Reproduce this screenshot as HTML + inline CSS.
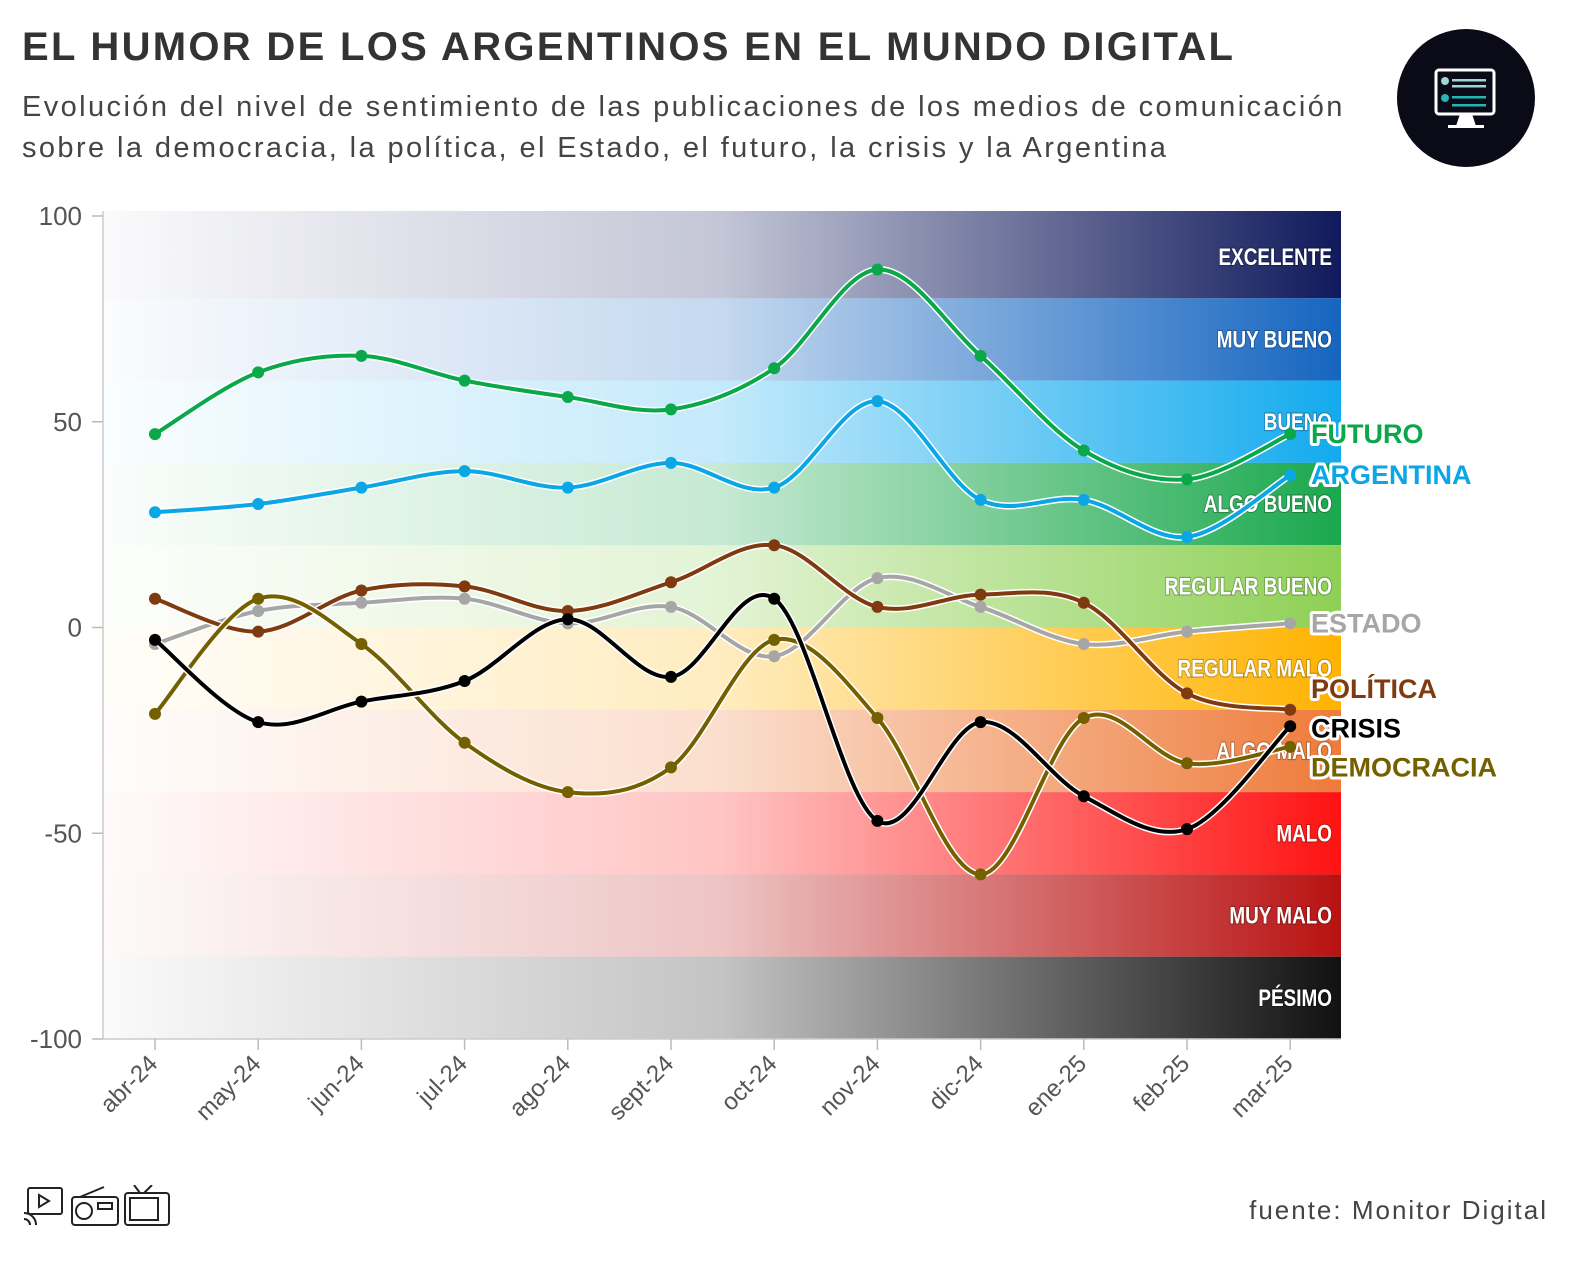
<!DOCTYPE html>
<html><head><meta charset="utf-8"><style>
body{margin:0;width:1588px;height:1278px;background:#fff;font-family:"Liberation Sans",sans-serif;overflow:hidden;position:relative}
#title{position:absolute;left:22px;top:25px;font-size:40px;font-weight:bold;color:#333;letter-spacing:2.3px}
#sub{position:absolute;left:22px;top:87px;font-size:29px;color:#444;line-height:41px;letter-spacing:2.4px}
#src{position:absolute;right:40px;top:1195px;font-size:26px;color:#444;letter-spacing:2px}
</style></head><body>
<div id="title">EL HUMOR DE LOS ARGENTINOS EN EL MUNDO DIGITAL</div>
<div id="sub">Evolución del nivel de sentimiento de las publicaciones de los medios de comunicación<br>sobre la democracia, la política, el Estado, el futuro, la crisis y la Argentina</div>
<svg style="position:absolute;left:1396px;top:28px" width="140" height="140">
<circle cx="70" cy="70" r="69" fill="#0b0b18"/>
<rect x="40" y="42" width="58" height="44" rx="3" fill="none" stroke="#fff" stroke-width="3"/>
<circle cx="49" cy="53" r="4" fill="#9fd5d5"/><circle cx="49" cy="70" r="4" fill="#25b5b5"/>
<rect x="56" y="51" width="34" height="2.5" fill="#9fd5d5"/><rect x="56" y="57" width="34" height="2.5" fill="#9fd5d5"/>
<rect x="56" y="68" width="34" height="2.5" fill="#25b5b5"/><rect x="56" y="76" width="34" height="2.5" fill="#25b5b5"/>
<path d="M64 86 L60 98 L80 98 L76 86Z" fill="#fff"/><rect x="52" y="97" width="36" height="3" fill="#fff"/>
</svg>
<svg style="position:absolute;left:22px;top:1185px" width="150" height="44" fill="none" stroke="#222" stroke-width="2">
<rect x="6" y="3" width="34" height="26" rx="2"/><path d="M17 10 L27 16 L17 22Z"/><path d="M2 28 a12 12 0 0 1 12 12 M2 34 a6 6 0 0 1 6 6"/>
<rect x="50" y="12" width="46" height="28" rx="3"/><circle cx="62" cy="26" r="8"/><path d="M58 12 L82 2"/><rect x="76" y="18" width="14" height="6"/>
<rect x="103" y="8" width="44" height="32" rx="3"/><rect x="108" y="13" width="28" height="22"/><path d="M118 8 L112 0 M122 8 L130 0"/>
</svg>
<svg id="chart" width="1588" height="1278" style="position:absolute;left:0;top:0">
<defs id="defs"></defs>
<g id="bands"></g><g id="axes"></g><g id="lines"></g><g id="labels"></g>
</svg>
<div id="src">fuente: Monitor Digital</div>
<script>
const months=["abr-24","may-24","jun-24","jul-24","ago-24","sept-24","oct-24","nov-24","dic-24","ene-25","feb-25","mar-25"];
const yTicks=[100,50,0,-50,-100];
const futuro=[47,62,66,60,56,53,63,87,66,43,36,47];
const argentina=[28,30,34,38,34,40,34,55,31,31,22,37];
const politica=[7,-1,9,10,4,11,20,5,8,6,-16,-20];
const estado=[-4,4,6,7,1,5,-7,12,5,-4,-1,1];
const democracia=[-21,7,-4,-28,-40,-34,-3,-22,-60,-22,-33,-29];
const crisis=[-3,-23,-18,-13,2,-12,7,-47,-23,-41,-49,-24];
const bandNames=["EXCELENTE","MUY BUENO","BUENO","ALGO BUENO","REGULAR BUENO","REGULAR MALO","ALGO MALO","MALO","MUY MALO","PÉSIMO"];
const bandColors=["#101a5c","#1565c0","#13aaee","#1aa84d","#8ed055","#ffb300","#ee7b3a","#ff1212","#b81212","#111111"];
const NS="http://www.w3.org/2000/svg";
const X0=155,DX=103.2,Y0=627.5,K=4.115,PL=103,PR=1341;
const x=i=>X0+i*DX, y=v=>Y0-v*K;
function mk(t,a,p){const e=document.createElementNS(NS,t);for(const k in a)e.setAttribute(k,a[k]);p.appendChild(e);return e;}
const defs=document.getElementById('defs'),bands=document.getElementById('bands'),axes=document.getElementById('axes'),lines=document.getElementById('lines'),labels=document.getElementById('labels');
bandNames.forEach((n,i)=>{
 const g=mk('linearGradient',{id:'g'+i,x1:0,x2:1,y1:0,y2:0},defs);
 mk('stop',{offset:0,'stop-color':bandColors[i],'stop-opacity':0.02},g);
 mk('stop',{offset:0.5,'stop-color':bandColors[i],'stop-opacity':0.25},g);
 mk('stop',{offset:1,'stop-color':bandColors[i],'stop-opacity':1},g);
 const top=100-i*20;
 const r=mk('rect',{x:PL,y:y(top)-(i==0?5:0),width:PR-PL,height:20*K+(i==0?5:0),fill:'url(#g'+i+')'},bands);
 
 
 const tx=PR-9,ty=y(top-10)+8;
 const t=mk('text',{x:0,y:0,transform:`translate(${tx} ${ty}) scale(0.86 1.08)`,'text-anchor':'end','font-size':22,'font-weight':'bold',fill:'#fff',style:'paint-order:stroke;stroke:rgba(0,0,0,0.25);stroke-width:2px'},bands);
 t.textContent=n;
 
 
});
mk('line',{x1:PL,x2:PL,y1:y(100)-5,y2:y(-100),stroke:'#ccc','stroke-width':1.5},axes);
mk('line',{x1:PL,x2:PR,y1:y(-100),y2:y(-100),stroke:'#ccc','stroke-width':1.5},axes);
yTicks.forEach(v=>{
 mk('line',{x1:92,x2:PL,y1:y(v),y2:y(v),stroke:'#bbb','stroke-width':1.5},axes);
 const t=mk('text',{x:82,y:y(v)+9,'text-anchor':'end','font-size':26,fill:'#555'},axes);t.textContent=v;
 
 
});
months.forEach((m,i)=>{
 mk('line',{x1:x(i),x2:x(i),y1:y(-100),y2:y(-100)+11,stroke:'#bbb','stroke-width':1.5},axes);
 const t=mk('text',{x:x(i)+4,y:y(-100)+26,'text-anchor':'end','font-size':24,fill:'#555',transform:`rotate(-45 ${x(i)+4} ${y(-100)+26})`},axes);t.textContent=m;
 
 
});
function path(vals){
 const p=vals.map((v,i)=>[x(i),y(v)]);let d=`M${p[0][0]},${p[0][1]}`;
 for(let i=0;i<p.length-1;i++){const a=p[Math.max(i-1,0)],b=p[i],c=p[i+1],e=p[Math.min(i+2,p.length-1)];
  d+=` C${b[0]+(c[0]-a[0])/6},${b[1]+(c[1]-a[1])/6} ${c[0]-(e[0]-b[0])/6},${c[1]-(e[1]-b[1])/6} ${c[0]},${c[1]}`;}
 return d;}
const series=[["futuro",futuro,"#0aa84a",0],["argentina",argentina,"#0aa6e6",0],["estado",estado,"#a6a6a6",0],["politica",politica,"#7f3a10",5],["democracia",democracia,"#756000",-5],["crisis",crisis,"#000",-0.5]];
const labelNames={futuro:"FUTURO",argentina:"ARGENTINA",estado:"ESTADO",politica:"POLÍTICA",democracia:"DEMOCRACIA",crisis:"CRISIS"};
series.forEach(([k,vals,col,off])=>{
 const g=mk('g',{},lines);
 
 
 mk('path',{d:path(vals),fill:'none',stroke:'#fff','stroke-width':7},g);
 const l=mk('path',{d:path(vals),fill:'none',stroke:col,'stroke-width':4},g);
 
 
 vals.forEach((v,i)=>{const c=mk('circle',{cx:x(i),cy:y(v),r:6,fill:col},g);
  
  });
 const ly=y(vals[vals.length-1]+off);
 const t=mk('text',{x:1311,y:ly+9,'font-size':27,'font-weight':'bold',fill:col,style:'paint-order:stroke;stroke:#fff;stroke-width:6px;stroke-linejoin:round'},labels);
 t.textContent=labelNames[k];
 
 
});
</script>
</body></html>
